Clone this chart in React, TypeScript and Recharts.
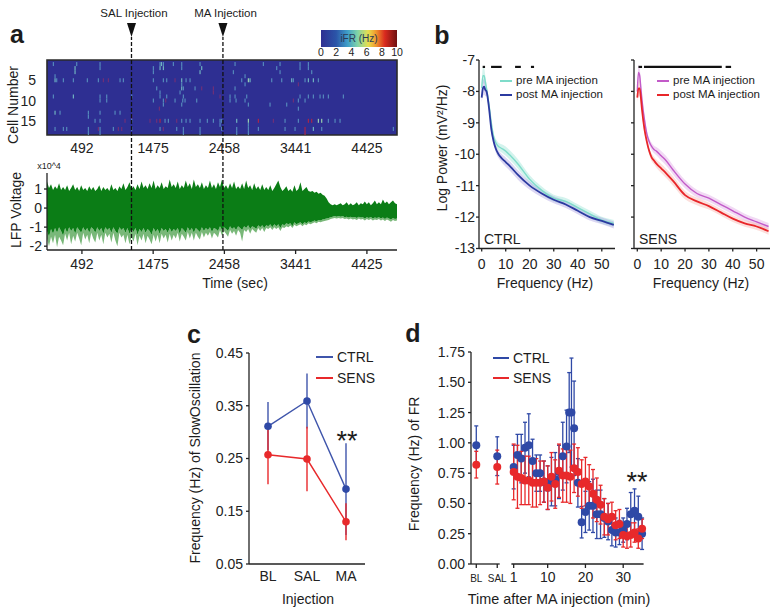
import React from 'react';
import {
  ComposedChart, ScatterChart, Scatter, Line, Area, XAxis, YAxis, ErrorBar,
  ReferenceLine, ReferenceArea, ReferenceDot,
} from 'recharts';

const FONT = '"Liberation Sans", Arial, sans-serif';
const INK = '#222';
const BLUE = '#2f49a6';
const RED = '#e8292b';

// a: raster, [time, cell, rate]
const spikes = [
  [98,1,3],[420,1,3],[742,1,3],[1570,1,3],[1590,1,4],[1616,1,3],[1754,1,3],[1869,1,3],[2122,1,3],[2605,1,3],[2996,1,3],[3226,1,3],[3502,1,3],[3617,1,3],
  [397,2,4],[742,2,3],[1478,2,3],[1570,2,4],[1616,2,4],[1869,2,3],[2145,2,4],[3180,2,3],[3502,2,3],[3617,2,3],
  [397,3,4],[1478,3,3],[2122,3,4],[2582,3,3],[3226,3,3],[3663,3,3],
  [121,4,3],[2743,4,3],
  [121,5,4],[144,5,3],[236,5,3],[374,5,3],[567,5,3],[719,5,3],[788,5,8],[857,5,8],[1018,5,3],[1064,5,3],[1478,5,3],[1616,5,3],[1662,5,3],[1777,5,8],[1869,5,4],[1929,5,3],[1984,5,3],[2697,5,3],[2789,5,5],[2812,5,4],[3111,5,3],[3249,5,3],[3387,5,4],[3410,5,3],[3571,5,3],[3617,5,4],[3686,5,4],[3755,5,3],
  [1869,6,3],[2743,6,3],[3479,6,8],
  [1524,7,3],[1869,7,4],[1892,7,3],[2053,7,3],[2145,7,8],[2306,7,8],[2605,7,3],
  [1570,8,3],[1846,8,3],[2306,8,8],
  [98,9,3],[374,9,4],[742,9,3],[834,9,3],[1179,9,3],[1570,9,3],[1662,9,3],[1892,9,3],[2398,9,8],[2536,9,3],[2605,9,3],[2766,9,3],[3502,9,3],[3617,9,3],[3686,9,3],[3778,9,3],[3824,9,3],[3893,9,3],[4100,9,3],
  [742,10,3],[834,10,3],[1478,10,3],[1616,10,3],[1648,10,8],[1777,10,3],[1883,10,3],[1915,10,3],[2076,10,3],[2536,10,3],[2619,10,3],[2743,10,3],[3410,10,8],[3479,10,3],[3571,10,3],
  [1616,11,3],[1869,11,3],[2789,11,3],[3088,11,3],[3318,11,3],
  [1561,12,8],[3479,12,3],
  [121,13,4],[190,13,3],[581,13,3],[742,13,3],[949,13,3],[1018,13,3],
  [581,14,3],[1179,14,8],
  [673,15,3],[742,15,3],[1087,15,8],[1179,15,3],[1432,15,8],[1524,15,8],[1570,15,9],[1639,15,3],[1685,15,3],[1800,15,8],[1869,15,3],[1929,15,3],[1984,15,3],[2122,15,3],[2223,15,3],[2306,15,3],[2398,15,3],[2421,15,3],[2628,15,4],[2789,15,5],[2927,15,9],[3134,15,8],[3295,15,3],[3479,15,3],[3617,15,9],[3663,15,9],[3755,15,5],[3801,15,5],[3893,15,3],[3985,15,3],[4054,15,3],
  [2398,16,3],[2789,16,3],
  [121,17,3],[236,17,3],[282,17,3],[581,17,3],[719,17,8],[742,17,3],[926,17,3],[995,17,8],[1041,17,8],[1179,17,3],[1570,17,3],[1616,17,8],[1800,17,3],[1892,17,3],[2122,17,3],[2421,17,3],[2628,17,3],[2789,17,3],[2927,17,3],[3295,17,3],[3433,17,3],[3571,17,9],[3686,17,4],[3801,17,3],[4790,17,3],
  [581,18,3],[742,18,3],[1892,18,3],[2122,18,3],[2628,18,3],[2789,18,3],[3571,18,9],
];
const rasterTimeTicks = [492, 1475, 2458, 3441, 4425];
const rasterCellTicks = [5, 10, 15];
const injectionTimes = [1176, 2438];
const ifrTicks = [0, 2, 4, 6, 8, 10];

// a: LFP envelope, x10^4
const lfpUpper = [
  1.4,1.05,1.25,0.95,1.15,1.0,1.3,0.95,1.1,0.95,
  1.2,0.9,1.05,1.25,0.95,1.1,0.9,1.2,0.95,1.05,
  0.9,1.15,0.95,1.1,0.9,1.0,1.2,0.9,1.1,0.95,
  1.05,0.9,1.25,0.95,1.05,0.9,1.15,1.0,1.3,0.95,
  1.1,1.35,1.0,1.15,0.95,1.25,1.0,1.4,1.05,1.2,
  1.0,1.3,1.05,1.45,1.0,1.2,1.05,1.35,1.0,1.15,
  1.05,1.5,1.1,1.25,1.05,1.4,1.0,1.2,1.05,1.45,
  1.1,1.3,1.0,1.5,1.1,1.25,1.05,1.35,1.0,1.2,
  1.05,1.45,1.05,1.25,1.0,1.35,1.1,1.5,1.05,1.2,
  1.0,1.3,1.05,1.4,1.0,1.15,1.0,1.3,1.0,1.45,
  1.05,1.2,0.95,1.3,1.0,1.15,0.95,1.25,0.95,1.1,
  0.95,1.2,0.9,1.05,1.25,1.45,1.1,0.9,1.0,1.15,
  0.9,1.0,0.85,1.2,0.9,1.0,1.35,0.9,1.0,1.1,
  0.9,0.85,0.9,0.8,0.85,0.75,0.8,0.7,0.65,0.5,
  0.3,0.2,0.15,0.2,0.15,0.2,0.25,0.15,0.2,0.3,
  0.15,0.25,0.15,0.2,0.3,0.15,0.25,0.2,0.35,0.2,
  0.3,0.15,0.25,0.4,0.2,0.3,0.2,0.45,0.25,0.35,
  0.2,0.3,0.4,0.25,0.2,
];
const lfpLower = [
  -1.2,-1.5,-1.1,-1.35,-1.05,-1.3,-1.0,-1.2,-1.45,-1.05,
  -1.3,-1.0,-1.2,-1.05,-1.35,-1.0,-1.15,-1.3,-1.0,-1.2,
  -1.05,-1.3,-1.0,-1.1,-1.3,-1.0,-1.2,-1.05,-1.35,-1.0,
  -1.15,-1.05,-1.3,-1.0,-1.2,-1.35,-1.0,-1.15,-1.05,-1.3,
  -1.05,-1.35,-1.1,-1.25,-1.05,-1.4,-1.1,-1.25,-1.05,-1.3,
  -1.1,-1.2,-1.4,-1.05,-1.25,-1.1,-1.35,-1.05,-1.2,-1.1,
  -1.3,-1.05,-1.25,-1.1,-1.2,-1.05,-1.35,-1.05,-1.15,-1.3,
  -1.0,-1.2,-1.05,-1.3,-1.05,-1.15,-1.25,-1.0,-1.2,-1.05,
  -1.15,-1.0,-1.25,-1.05,-1.1,-1.2,-0.95,-1.15,-1.0,-1.1,
  -1.2,-0.95,-1.1,-1.0,-1.15,-0.95,-1.05,-1.15,-0.95,-1.05,
  -0.9,-1.1,-0.95,-1.0,-1.1,-0.9,-1.0,-0.9,-1.05,-0.9,
  -0.95,-0.85,-1.0,-0.85,-0.95,-0.85,-1.05,-0.85,-0.9,-0.8,
  -0.85,-0.8,-0.95,-0.75,-0.85,-0.8,-0.75,-0.85,-0.75,-0.8,
  -0.7,-0.75,-0.7,-0.65,-0.7,-0.62,-0.65,-0.6,-0.58,-0.55,
  -0.52,-0.48,-0.45,-0.42,-0.45,-0.42,-0.45,-0.42,-0.48,-0.45,
  -0.5,-0.45,-0.5,-0.47,-0.52,-0.45,-0.5,-0.48,-0.55,-0.48,
  -0.52,-0.47,-0.55,-0.5,-0.52,-0.48,-0.55,-0.5,-0.58,-0.5,
  -0.55,-0.6,-0.52,-0.58,-0.55,
];
const lfpPeaks = [
  -1.6,-2.0,-1.5,-1.85,-1.4,-2.05,-1.5,-1.7,-1.95,-1.35,
  -1.7,-1.3,-1.9,-1.45,-1.75,-1.3,-1.6,-1.95,-1.3,-1.65,
  -1.4,-1.85,-1.3,-1.6,-1.8,-1.3,-1.7,-1.4,-1.9,-1.3,
  -1.55,-1.35,-1.8,-1.3,-1.7,-2.0,-1.3,-1.55,-1.4,-1.85,
  -1.4,-1.9,-1.5,-1.75,-1.35,-1.95,-1.45,-1.7,-1.35,-1.85,
  -1.45,-1.65,-1.9,-1.4,-1.75,-1.4,-1.85,-1.35,-1.6,-1.4,
  -1.8,-1.35,-1.7,-1.4,-1.6,-1.3,-1.75,-1.35,-1.5,-1.7,
  -1.25,-1.6,-1.3,-1.7,-1.3,-1.5,-1.65,-1.25,-1.55,-1.3,
  -1.45,-1.25,-1.6,-1.3,-1.4,-1.55,-1.15,-1.45,-1.2,-1.35,
  -1.5,-1.15,-1.35,-1.2,-1.45,-1.15,-1.3,-1.75,-1.15,-1.25,
  -1.1,-1.35,-1.1,-1.2,-1.3,-1.05,-1.2,-1.05,-1.25,-1.05,
  -1.1,-1.0,-1.15,-1.0,-1.1,-1.0,-1.2,-1.0,-1.05,-0.95,
  -1.0,-0.92,-1.05,-0.88,-0.95,-0.9,-0.85,-0.95,-0.85,-0.9,
  -0.8,-0.85,-0.8,-0.75,-0.8,-0.72,-0.75,-0.7,-0.68,-0.65,
  -0.62,-0.58,-0.55,-0.52,-0.55,-0.52,-0.55,-0.52,-0.58,-0.55,
  -0.6,-0.55,-0.6,-0.57,-0.62,-0.55,-0.6,-0.58,-0.65,-0.58,
  -0.62,-0.57,-0.65,-0.6,-0.62,-0.58,-0.65,-0.6,-0.68,-0.6,
  -0.65,-0.72,-0.62,-0.68,-0.65,
];
const lfpTicks = [-2, -1, 0, 1];

// b: power spectra
const freqs = [0, 0.5, 1, 1.5, 2, 3, 4, 5, 6, 7, 8, 10, 12, 15, 20, 25, 30, 35, 40, 45, 50, 55];
const ctrlPre = [-7.9,-7.5,-7.5,-7.7,-7.9,-8.4,-9.0,-9.45,-9.65,-9.75,-9.8,-9.9,-10.05,-10.3,-10.8,-11.15,-11.4,-11.5,-11.7,-11.9,-12.1,-12.2];
const ctrlPost = [-8.2,-7.9,-7.85,-7.95,-8.0,-8.5,-9.2,-9.6,-9.85,-10.0,-10.1,-10.25,-10.4,-10.65,-11.0,-11.25,-11.45,-11.6,-11.8,-12.0,-12.12,-12.25];
const sensPre = [-8.0,-7.4,-7.5,-7.9,-8.3,-8.9,-9.35,-9.6,-9.75,-9.85,-9.9,-10.05,-10.2,-10.5,-10.95,-11.25,-11.4,-11.6,-11.8,-12.0,-12.15,-12.3];
const sensPost = [-8.2,-7.9,-7.9,-8.2,-8.6,-9.2,-9.6,-9.9,-10.1,-10.2,-10.3,-10.45,-10.6,-10.85,-11.3,-11.5,-11.65,-11.85,-12.05,-12.2,-12.3,-12.45];
const spectrumSem = [0.15,0.25,0.25,0.2,0.15,0.1,0.1,0.1,0.12,0.12,0.13,0.15,0.15,0.15,0.13,0.12,0.11,0.11,0.11,0.11,0.11,0.11];
const powerTicks = [-7, -8, -9, -10, -11, -12, -13];
const freqTicks = [0, 10, 20, 30, 40, 50];
const ctrlSig = [[0.4, 1.4], [3.9, 8.3], [13.9, 16.3], [20.5, 21.8]];
const sensSig = [[0.5, 2], [2.8, 35.4], [37, 39.3]];

// c: slow oscillation
const injections = ['BL', 'SAL', 'MA'];
const soCtrl = [0.311, 0.359, 0.192];
const soCtrlErr = [0.046, 0.052, 0.087];
const soSens = [0.257, 0.249, 0.13];
const soSensErr = [0.056, 0.061, 0.035];
const soTicks = [0.05, 0.15, 0.25, 0.35, 0.45];

// d: firing rate
const baseX = [-8.9, -3.35];
const frCtrlBase = [0.98, 0.89];
const frCtrlBaseErr = [0.16, 0.16];
const frSensBase = [0.82, 0.8];
const frSensBaseErr = [0.11, 0.14];
const ctrlMinutes = [1,2,3,4,5,6,7,8,9,10,11,12,13,14,15,15.7,16.3,17,18,19,20,21,22,23,24,25,26,27,28,29,30,31,32,33,34,35];
const frCtrl = [0.8,0.9,0.87,0.96,0.98,0.85,0.75,0.75,0.68,0.63,0.68,0.7,0.76,0.89,0.97,1.25,1.25,1.12,0.67,0.345,0.43,0.48,0.48,0.41,0.41,0.38,0.35,0.28,0.26,0.26,0.28,0.33,0.41,0.44,0.39,0.25];
const frCtrlErr = [0.18,0.17,0.2,0.21,0.26,0.18,0.15,0.15,0.17,0.18,0.2,0.22,0.22,0.28,0.3,0.33,0.45,0.39,0.2,0.13,0.17,0.2,0.22,0.2,0.2,0.16,0.15,0.13,0.12,0.1,0.1,0.13,0.18,0.18,0.17,0.13];
const sensMinutes = [1,2,3,4,5,6,7,8,9,10,11,12,13,14,15,16,17,18,19,20,21,22,23,24,25,26,27,28,29,30,31,32,33,34,35];
const frSens = [0.76,0.72,0.71,0.69,0.69,0.67,0.67,0.67,0.68,0.63,0.72,0.66,0.77,0.73,0.73,0.72,0.79,0.76,0.66,0.68,0.64,0.58,0.53,0.49,0.39,0.37,0.39,0.32,0.33,0.24,0.23,0.24,0.26,0.21,0.29];
const frSensErr = [0.23,0.26,0.22,0.2,0.2,0.2,0.2,0.18,0.17,0.18,0.2,0.2,0.22,0.22,0.22,0.22,0.2,0.2,0.2,0.2,0.18,0.2,0.18,0.16,0.15,0.13,0.12,0.12,0.12,0.1,0.1,0.1,0.08,0.08,0.08];
const frTicks = [0, 0.25, 0.5, 0.75, 1, 1.25, 1.5, 1.75];
const minuteTicks = [-8.9, -3.35, 1, 10, 20, 30];
const minuteLabels = ['BL', 'SAL', '1', '10', '20', '30'];

const rateColor = (rate: number) => {
  if (rate >= 9) return '#a8264a';
  if (rate >= 8) return '#6f2f78';
  if (rate >= 5) return '#98cfae';
  if (rate >= 4) return '#6fb2c0';
  return '#5488bb';
};

const rasterData = spikes.map(([t, c, r]) => ({ t, c, r }));
const lfpData = lfpUpper.map((u, i) => ({
  t: 10 + i * 27.76,
  core: [lfpLower[i], u],
  peak: [lfpPeaks[i], lfpLower[i]],
}));
const spectrumRows = (pre: number[], post: number[]) =>
  freqs.map((f, i) => ({
    f,
    pre: pre[i],
    post: post[i],
    preBand: [pre[i] - spectrumSem[i], pre[i] + spectrumSem[i]],
    postBand: [post[i] - spectrumSem[i], post[i] + spectrumSem[i]],
  }));
const soData = injections.map((name, i) => ({
  name,
  ctrl: soCtrl[i],
  ctrlErr: soCtrlErr[i],
  sens: soSens[i],
  sensErr: soSensErr[i],
}));
const points = (xs: number[], ys: number[], errs: number[]) =>
  xs.map((x, i) => ({ x, y: ys[i], err: errs[i] }));

// the chart sits so that its plot area lands exactly on x, y, w, h
const place = (x: number, y: number, w: number, h: number) => ({
  left: x - 50,
  top: y - 20,
  position: 'absolute' as const,
  width: w + 62,
  height: h + 54,
});
const size = (w: number, h: number) => ({
  width: w + 62,
  height: h + 54,
  margin: { top: 20, right: 12, left: 0, bottom: 0 },
});
const tickStyle = { fontSize: 14, fill: INK };
const axisStyle = { stroke: INK, strokeWidth: 1.3 };

function Txt({ x, y, size: fs = 14, rotate = 0, bold = false, align = 'center', children }: any) {
  const tx = align === 'left' ? '0' : '-50%';
  return (
    <div
      style={{
        position: 'absolute',
        left: x,
        top: y,
        fontSize: fs,
        lineHeight: 1,
        fontWeight: bold ? 700 : 400,
        color: '#1c1c1c',
        whiteSpace: 'nowrap',
        transform: `translate(${tx}, -50%) rotate(${rotate}deg)`,
      }}
    >
      {children}
    </div>
  );
}

function Key({ x, y, color, label, textX, fs = 14, thick = 2 }: any) {
  return (
    <>
      <div style={{ position: 'absolute', left: x, top: y - thick / 2, width: textX - x - 4, height: thick, background: color }} />
      <Txt x={textX} y={y} size={fs} align="left">{label}</Txt>
    </>
  );
}

function Arrow({ cx, cy }: any) {
  return <polygon points={`${cx - 4.5},${cy - 14} ${cx + 4.5},${cy - 14} ${cx},${cy}`} fill="#111" />;
}

function Spike({ cx, cy, payload }: any) {
  return <rect x={cx - 0.6} y={cy - 2} width={1.2} height={4} fill={rateColor(payload.r)} />;
}

function MinuteTick({ x, y, payload }: any) {
  const i = minuteTicks.indexOf(payload.value);
  return (
    <text x={x} y={y + 12} textAnchor="middle" fontSize={i < 2 ? 10 : 14} fill={INK}>
      {minuteLabels[i]}
    </text>
  );
}

const NoLabel = () => <g />;

function Spectrum({ x, pre, post, preColor, postColor, bandPre, bandPost, sig, domain, showLabels }: any) {
  const rows = spectrumRows(pre, post);
  return (
    <div style={place(x, 59.5, 136, 188.5)}>
      <ComposedChart {...size(136, 188.5)} data={rows}>
        <XAxis dataKey="f" type="number" domain={domain} ticks={freqTicks} interval={0} height={34} tick={tickStyle} tickSize={3} tickMargin={8} axisLine={axisStyle} tickLine={axisStyle} />
        <YAxis type="number" domain={[-13, -7]} ticks={powerTicks} interval={0} width={50} tick={showLabels ? tickStyle : NoLabel} tickSize={3} tickMargin={1} axisLine={axisStyle} tickLine={axisStyle} />
        <Area dataKey="preBand" type="monotone" stroke="none" fill={bandPre} fillOpacity={0.5} isAnimationActive={false} />
        <Area dataKey="postBand" type="monotone" stroke="none" fill={bandPost} fillOpacity={0.4} isAnimationActive={false} />
        <Line dataKey="pre" type="monotone" stroke={preColor} strokeWidth={1.4} dot={false} isAnimationActive={false} />
        <Line dataKey="post" type="monotone" stroke={postColor} strokeWidth={1.8} dot={false} isAnimationActive={false} />
        {sig.map(([a, b]: number[]) => (
          <ReferenceLine key={a} segment={[{ x: a, y: -7.22 }, { x: b, y: -7.22 }]} stroke="#111" strokeWidth={2.2} />
        ))}
      </ComposedChart>
    </div>
  );
}

export default function App() {
  return (
    <div style={{ position: 'absolute', left: 0, top: 0, width: 780, height: 616, background: '#fff', fontFamily: FONT, overflow: 'hidden' }}>
      {/* panel a, raster */}
      <div style={place(47, 60, 350, 75)}>
        <ScatterChart {...size(350, 75)}>
          <XAxis dataKey="t" type="number" domain={[10, 4840]} ticks={rasterTimeTicks} interval={0} height={34} tick={tickStyle} tickLine={false} axisLine={false} tickMargin={2} />
          <YAxis dataKey="c" type="number" domain={[0, 18.5]} reversed ticks={rasterCellTicks} interval={0} width={50} tick={tickStyle} tickLine={false} axisLine={false} tickMargin={5} />
          <ReferenceArea x1={10} x2={4840} y1={0} y2={18.5} fill="#2e2f92" fillOpacity={1} stroke="#2a2a2a" strokeWidth={1.6} />
          <Scatter data={rasterData} shape={Spike} isAnimationActive={false} />
        </ScatterChart>
      </div>

      {/* colour bar */}
      <div style={place(321, 29.5, 76, 17)}>
        <ComposedChart {...size(76, 17)} data={[{ v: 0, mid: 0.5 }, { v: 10, mid: 0.5 }]}>
          <defs>
            <linearGradient id="ifr" x1="0" x2="1" y1="0" y2="0">
              <stop offset="0" stopColor="#2e2f92" />
              <stop offset="0.2" stopColor="#2b55a8" />
              <stop offset="0.35" stopColor="#3f9fc8" />
              <stop offset="0.48" stopColor="#7fd3a8" />
              <stop offset="0.62" stopColor="#e6df4f" />
              <stop offset="0.72" stopColor="#f09a2e" />
              <stop offset="0.84" stopColor="#d92a1f" />
              <stop offset="1" stopColor="#6e1010" />
            </linearGradient>
          </defs>
          <XAxis dataKey="v" type="number" domain={[0, 10]} ticks={ifrTicks} interval={0} height={34} tick={{ fontSize: 10.5, fill: INK }} tickLine={false} axisLine={false} tickMargin={-4} />
          <YAxis type="number" domain={[0, 1]} width={50} tick={false} tickLine={false} axisLine={false} />
          <ReferenceArea x1={0} x2={10} y1={0} y2={1} fill="url(#ifr)" fillOpacity={1} stroke="none" label={{ value: 'iFR (Hz)', fontSize: 10, fill: '#2b3a55' }} />
          <Line dataKey="mid" stroke="none" dot={false} isAnimationActive={false} />
        </ComposedChart>
      </div>

      {/* panel a, LFP */}
      <div style={place(47, 173, 350, 77)}>
        <ComposedChart {...size(350, 77)} data={lfpData}>
          <XAxis dataKey="t" type="number" domain={[10, 4840]} ticks={rasterTimeTicks} interval={0} height={34} tick={tickStyle} tickSize={4} tickMargin={5} axisLine={axisStyle} tickLine={axisStyle} />
          <YAxis type="number" domain={[-2.2, 1.84]} ticks={lfpTicks} interval={0} width={50} tick={tickStyle} tickSize={3} tickMargin={2} axisLine={axisStyle} tickLine={axisStyle} />
          <Area dataKey="peak" type="linear" stroke="none" fill="#79b879" fillOpacity={1} isAnimationActive={false} />
          <Area dataKey="core" type="linear" stroke="none" fill="#0b7d16" fillOpacity={1} isAnimationActive={false} />
        </ComposedChart>
      </div>

      {/* injection markers cross both plots of panel a */}
      <div style={place(47, 37, 350, 213)}>
        <ComposedChart {...size(350, 213)} data={lfpData.map((d) => ({ t: d.t, mid: 0.5 }))}>
          <XAxis dataKey="t" type="number" domain={[10, 4840]} height={34} tick={false} tickLine={false} axisLine={false} />
          <YAxis type="number" domain={[0, 1]} width={50} tick={false} tickLine={false} axisLine={false} />
          <Line dataKey="mid" stroke="none" dot={false} isAnimationActive={false} />
          {injectionTimes.map((t) => (
            <ReferenceLine key={t} x={t} stroke="#111" strokeWidth={1.3} strokeDasharray="4 2" />
          ))}
          {injectionTimes.map((t) => (
            <ReferenceDot key={t} x={t} y={1} shape={Arrow} ifOverflow="visible" />
          ))}
        </ComposedChart>
      </div>

      <Txt x={17} y={34} size={25} bold>a</Txt>
      <Txt x={134} y={14} size={11.5}>SAL Injection</Txt>
      <Txt x={225.5} y={14} size={11.5}>MA Injection</Txt>
      <Txt x={13} y={105} rotate={-90}>Cell Number</Txt>
      <Txt x={16} y={210} rotate={-90}>LFP Voltage</Txt>
      <Txt x={49} y={166} size={9}>x10^4</Txt>
      <Txt x={235} y={283}>Time (sec)</Txt>

      {/* panel b */}
      <Spectrum x={479} pre={ctrlPre} post={ctrlPost} preColor="#7fdcca" postColor="#2b3aa0" bandPre="#a8e8dc" bandPost="#a79be0" sig={ctrlSig} domain={[-1.125, 55.5]} showLabels />
      <Spectrum x={634} pre={sensPre} post={sensPost} preColor="#c25ac8" postColor="#e8262a" bandPre="#e3b4ea" bandPost="#f8b0a8" sig={sensSig} domain={[-1.38, 55.6]} showLabels={false} />
      <Txt x={442} y={35} size={25} bold>b</Txt>
      <Txt x={442} y={148} rotate={-90}>Log Power (mV²/Hz)</Txt>
      <Txt x={545} y={283}>Frequency (Hz)</Txt>
      <Txt x={701} y={283}>Frequency (Hz)</Txt>
      <Txt x={484} y={239} align="left">CTRL</Txt>
      <Txt x={639} y={239} align="left">SENS</Txt>
      <Key x={500} y={81} textX={516} color="#7fdcca" label="pre MA injection" fs={11.5} thick={1.5} />
      <Key x={500} y={95} textX={516} color="#2b3aa0" label="post MA injection" fs={11.5} />
      <Key x={657} y={81} textX={673} color="#c25ac8" label="pre MA injection" fs={11.5} thick={1.5} />
      <Key x={657} y={95} textX={673} color="#e8262a" label="post MA injection" fs={11.5} />

      {/* panel c */}
      <div style={place(249, 353, 116, 211)}>
        <ComposedChart {...size(116, 211)} data={soData}>
          <XAxis dataKey="name" height={34} padding={{ left: 19, right: 19 }} tick={tickStyle} tickSize={0} tickMargin={7} axisLine={axisStyle} tickLine={false} />
          <YAxis type="number" domain={[0.05, 0.45]} ticks={soTicks} interval={0} width={50} tick={tickStyle} tickSize={3} tickMargin={3} tickFormatter={(v) => v.toFixed(2)} axisLine={axisStyle} tickLine={axisStyle} />
          <Line dataKey="ctrl" stroke="#3f55ab" strokeWidth={1.4} dot={{ r: 3.8, fill: BLUE, stroke: 'none' }} isAnimationActive={false}>
            <ErrorBar dataKey="ctrlErr" width={0} stroke="#3f55ab" strokeWidth={1.4} />
          </Line>
          <Line dataKey="sens" stroke={RED} strokeWidth={1.4} dot={{ r: 3.8, fill: RED, stroke: 'none' }} isAnimationActive={false}>
            <ErrorBar dataKey="sensErr" width={0} stroke={RED} strokeWidth={1.4} />
          </Line>
        </ComposedChart>
      </div>
      <Txt x={194} y={334} size={25} bold>c</Txt>
      <Txt x={195} y={458} rotate={-90}>Frequency (Hz) of SlowOscillation</Txt>
      <Txt x={308} y={599}>Injection</Txt>
      <Key x={316} y={357} textX={337} color="#3f55ab" label="CTRL" />
      <Key x={316} y={378} textX={337} color={RED} label="SENS" />
      <Txt x={347} y={441} size={27}>**</Txt>

      {/* panel d */}
      <div style={place(470.7, 352.3, 172.6, 212)}>
        <ComposedChart {...size(172.6, 212)}>
          <XAxis dataKey="x" type="number" domain={[-10.3, 35.4]} ticks={minuteTicks} interval={0} height={34} tick={MinuteTick} tickSize={4} axisLine={false} tickLine={axisStyle} />
          <YAxis type="number" domain={[0, 1.75]} ticks={frTicks} interval={0} width={50} tick={tickStyle} tickSize={3} tickMargin={3} tickFormatter={(v) => v.toFixed(2)} axisLine={axisStyle} tickLine={axisStyle} />
          <ReferenceLine segment={[{ x: -10.3, y: 0 }, { x: -2.7, y: 0 }]} {...axisStyle} />
          <ReferenceLine segment={[{ x: 0.4, y: 0 }, { x: 35.4, y: 0 }]} {...axisStyle} />
          <Line data={points(baseX, frCtrlBase, frCtrlBaseErr)} dataKey="y" stroke="none" dot={{ r: 4, fill: BLUE, stroke: 'none' }} isAnimationActive={false}>
            <ErrorBar dataKey="err" width={2} stroke={BLUE} strokeWidth={1.3} />
          </Line>
          <Line data={points(ctrlMinutes, frCtrl, frCtrlErr)} dataKey="y" stroke="none" dot={{ r: 4, fill: BLUE, stroke: 'none' }} isAnimationActive={false}>
            <ErrorBar dataKey="err" width={2} stroke={BLUE} strokeWidth={1.3} />
          </Line>
          <Line data={points(baseX, frSensBase, frSensBaseErr)} dataKey="y" stroke="none" dot={{ r: 4, fill: RED, stroke: 'none' }} isAnimationActive={false}>
            <ErrorBar dataKey="err" width={2} stroke={RED} strokeWidth={1.3} />
          </Line>
          <Line data={points(sensMinutes, frSens, frSensErr)} dataKey="y" stroke="none" dot={{ r: 4, fill: RED, stroke: 'none' }} isAnimationActive={false}>
            <ErrorBar dataKey="err" width={2} stroke={RED} strokeWidth={1.3} />
          </Line>
        </ComposedChart>
      </div>
      <Txt x={413} y={333} size={25} bold>d</Txt>
      <Txt x={414} y={464} rotate={-90}>Frequency (Hz) of FR</Txt>
      <Txt x={559} y={599} size={14.4}>Time after MA injection (min)</Txt>
      <Key x={493} y={358} textX={513} color={BLUE} label="CTRL" />
      <Key x={493} y={378} textX={513} color={RED} label="SENS" />
      <Txt x={637} y={482} size={27}>**</Txt>
    </div>
  );
}
